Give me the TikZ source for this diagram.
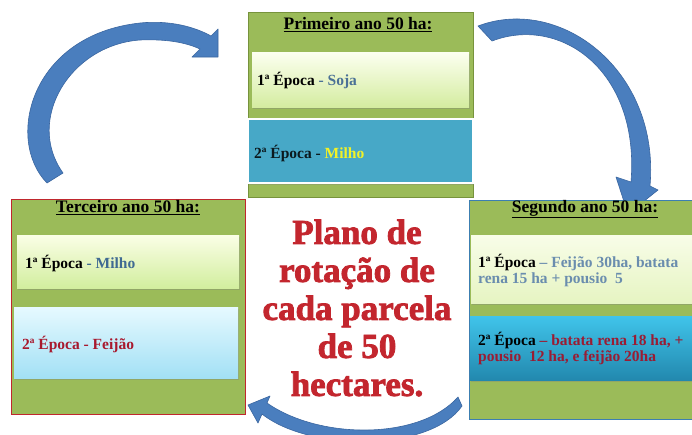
\documentclass[tikz,border=0pt]{standalone}
\usepackage{fontspec}
\setmainfont{Liberation Serif}
\newfontface\heavyface{Liberation Serif Bold}[FakeBold=2.2]
\usetikzlibrary{shadows}
\definecolor{boxgreen}{HTML}{9BBB59}
\definecolor{topborder}{HTML}{77933C}
\definecolor{leftborder}{HTML}{C0272D}
\definecolor{rightborder}{HTML}{3C7FB1}
\definecolor{arrowblue}{HTML}{4A7EBE}
\definecolor{arrowedge}{HTML}{3A66A0}
\definecolor{tonetop}{HTML}{FCFFF0}
\definecolor{tonebot}{HTML}{D4ECA0}
\definecolor{tealbox}{HTML}{47A8C7}
\definecolor{lonetop}{HTML}{FAFEE6}
\definecolor{lonebot}{HTML}{D2EE9E}
\definecolor{ltwotop}{HTML}{E6F9FF}
\definecolor{ltwobot}{HTML}{A2E0F5}
\definecolor{ronetop}{HTML}{F8FDE8}
\definecolor{ronebot}{HTML}{E6F4C2}
\definecolor{rtwotop}{HTML}{40C4EA}
\definecolor{rtwobot}{HTML}{2288AE}
\definecolor{sojablue}{HTML}{4B7196}
\definecolor{milhoblue}{HTML}{3F6A92}
\definecolor{feijaored}{HTML}{A8192E}
\definecolor{segblue}{HTML}{6A8DAE}
\definecolor{segred}{HTML}{9A1C33}
\definecolor{milhoyellow}{HTML}{F2F227}
\definecolor{planred}{HTML}{C3262E}
\tikzset{
  outerbox/.style={draw, line width=1.4pt, fill=boxgreen, anchor=north west, inner sep=0pt},
  innerbox/.style={anchor=north west, inner sep=0pt,
     drop shadow={opacity=0.35, shadow xshift=1pt, shadow yshift=-2pt}},
  titletext/.style={font=\fontsize{17.5}{19}\selectfont\bfseries, inner sep=0pt},
  labeltext/.style={font=\fontsize{15.5}{16}\selectfont\bfseries, anchor=west, inner sep=0pt, align=left},
  arrowshape/.style={fill=arrowblue, draw=arrowedge, line width=0.6pt, line join=round},
  bigtext/.style={font=\fontsize{35}{38}\heavyface, align=center, inner sep=0pt}
}
\begin{document}
\begin{tikzpicture}[x=1pt,y=-1pt]
\useasboundingbox (0,0) rectangle (692,434);
\fill[white] (0,0) rectangle (692,434);
\clip (0,0) rectangle (692,434);

% arrows
\path[arrowshape] (47,183) .. controls (5,140) and (30,35) .. (140,23)
  .. controls (170,20) and (195,27) .. (211,36) -- (218,29) -- (218,57) -- (192,57) -- (200,49)
  .. controls (185,42) and (165,39) .. (140,40)
  .. controls (70,45) and (25,120) .. (63,173) -- cycle;
\path[arrowshape] (478,26) .. controls (560,-5) and (660,70) .. (650,186)
  -- (658,190) -- (628,214) -- (616,177) -- (631,182)
  .. controls (640,70) and (560,15) .. (492,41) -- cycle;
\path[arrowshape] (458,397) -- (462,406) .. controls (430,452) and (310,452) .. (262,414)
  -- (258,423) -- (248,405) -- (270,396) -- (267,403)
  .. controls (320,440) and (420,440) .. (458,397) -- cycle;

% first year
\node[outerbox, draw=topborder, minimum width=225pt, minimum height=185pt] (top) at (248,12) {};
\node[titletext] (toptitle) at (358,25) {\underline{Primeiro ano 50 ha:}};
\node[innerbox, top color=tonetop, bottom color=tonebot, minimum width=217pt, minimum height=55pt] (topone) at (252,52) {};
\node[labeltext] (toponetext) at (257,80) {1ª Época {\color{sojablue}- Soja}};
\node[innerbox, fill=tealbox, draw=white, line width=1.5pt, minimum width=225pt, minimum height=64pt] (toptwo) at (247,118) {};
\node[labeltext, text=black!85!tealbox] (toptwotext) at (254,153) {2ª Época - {\color{milhoyellow}Milho}};

% third year
\node[outerbox, draw=leftborder, minimum width=234pt, minimum height=215pt] (left) at (11,199) {};
\node[titletext] (lefttitle) at (128,208) {\underline{Terceiro ano 50 ha:}};
\node[innerbox, top color=lonetop, bottom color=lonebot, minimum width=222pt, minimum height=53pt] (leftone) at (17,235) {};
\node[labeltext] (leftonetext) at (25,263) {1ª Época {\color{milhoblue}- Milho}};
\node[innerbox, top color=ltwotop, bottom color=ltwobot, minimum width=224pt, minimum height=71pt] (lefttwo) at (14,307) {};
\node[labeltext, text=feijaored] (lefttwotext) at (22,344) {2ª Época - Feijão};

% second year
\node[outerbox, draw=rightborder, minimum width=240pt, minimum height=219pt] (right) at (469,200) {};
\node[titletext] (righttitle) at (585,209) {\underline{Segundo ano 50 ha:}};
\node[innerbox, top color=ronetop, bottom color=ronebot, minimum width=240pt, minimum height=68pt] (rightone) at (471,235) {};
\node[labeltext] (rightonetext) at (478,270) {1ª Época {\color{segblue}– Feijão 30ha, batata}\\{\color{segblue}rena 15 ha + pousio\ \ 5}};
\node[innerbox, top color=rtwotop, bottom color=rtwobot, minimum width=240pt, minimum height=64pt] (righttwo) at (470,316) {};
\node[labeltext] (righttwotext) at (478,348) {2ª Época {\color{segred}– batata rena 18 ha, +}\\{\color{segred}pousio\ \ 12 ha, e feijão 20ha}};

% central title
\node[bigtext, text=planred] (plan) at (357,308) {Plano de\\rotação de\\cada parcela\\de 50\\hectares.};
\end{tikzpicture}
\end{document}
